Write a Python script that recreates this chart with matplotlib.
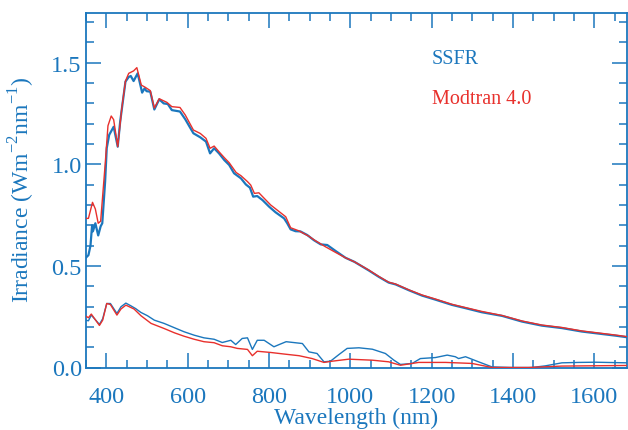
import matplotlib
matplotlib.use("Agg")
import matplotlib.pyplot as plt
from matplotlib.ticker import MultipleLocator

plt.rcParams['font.family'] = ['Liberation Serif', 'DejaVu Serif']
plt.rcParams['mathtext.fontset'] = 'custom'
plt.rcParams['mathtext.rm'] = 'Liberation Serif'

BLUE = '#1b77bd'
RED = '#e8302c'

# Downwelling irradiance - SSFR
ssfr_dn_wl = [348, 356, 361, 365, 367, 373, 380, 386, 390, 397, 401, 407, 418, 428, 434, 447, 455, 460,
              467, 477, 488, 494, 499, 508, 518, 530, 541, 551, 561, 581, 594, 614, 631, 645, 655, 665,
              677, 690, 702, 714, 731, 743, 753, 761, 771, 784, 800, 816, 837, 845, 853, 865, 877, 894,
              910, 927, 943, 964, 988, 1010, 1045, 1070, 1094, 1111, 1144, 1176, 1209, 1250, 1283, 1323,
              1373, 1422, 1471, 1520, 1569, 1618, 1651, 1680]
ssfr_dn = [0.537, 0.553, 0.60, 0.70, 0.67, 0.71, 0.65, 0.695, 0.71, 0.915, 1.08, 1.145, 1.185, 1.087,
           1.21, 1.407, 1.43, 1.435, 1.41, 1.448, 1.353, 1.374, 1.36, 1.358, 1.27, 1.32, 1.30, 1.297,
           1.267, 1.26, 1.222, 1.153, 1.133, 1.112, 1.054, 1.079, 1.054, 1.021, 0.997, 0.956, 0.931,
           0.901, 0.885, 0.841, 0.844, 0.824, 0.792, 0.764, 0.734, 0.709, 0.68, 0.671, 0.67, 0.652,
           0.627, 0.606, 0.603, 0.573, 0.54, 0.52, 0.478, 0.446, 0.418, 0.409, 0.380, 0.354, 0.334,
           0.308, 0.292, 0.272, 0.254, 0.226, 0.206, 0.194, 0.177, 0.165, 0.157, 0.149]

# Downwelling irradiance - Modtran 4.0
mod_dn_wl = [348, 356, 366, 373, 380, 386, 397, 404, 412, 418, 428, 438, 447, 455, 467, 475, 486, 495,
             508, 518, 530, 549, 561, 581, 594, 614, 631, 645, 655, 665, 677, 690, 702, 719, 731, 747,
             755, 764, 775, 788, 804, 820, 841, 853, 873, 898, 914, 939, 964, 988, 1010, 1045, 1070,
             1094, 1111, 1144, 1176, 1209, 1250, 1283, 1323, 1373, 1422, 1471, 1520, 1569, 1618, 1651,
             1680]
mod_dn = [0.734, 0.734, 0.813, 0.78, 0.71, 0.72, 0.997, 1.19, 1.238, 1.22, 1.087, 1.276, 1.41, 1.448,
          1.46, 1.476, 1.39, 1.38, 1.363, 1.277, 1.323, 1.305, 1.284, 1.28, 1.243, 1.169, 1.152, 1.128,
          1.079, 1.09, 1.062, 1.033, 1.008, 0.96, 0.944, 0.915, 0.898, 0.857, 0.86, 0.833, 0.80, 0.775,
          0.742, 0.688, 0.673, 0.646, 0.624, 0.594, 0.566, 0.54, 0.52, 0.480, 0.448, 0.420, 0.411,
          0.382, 0.357, 0.337, 0.311, 0.295, 0.276, 0.256, 0.229, 0.209, 0.197, 0.180, 0.168, 0.160,
          0.152]

# Upwelling irradiance - SSFR
ssfr_up_wl = [348, 356, 363, 383, 391, 401, 410, 426, 436, 448, 460, 472, 485, 501, 518, 542, 567, 591,
              616, 640, 665, 685, 706, 718, 734, 747, 759, 771, 788, 812, 825, 842, 882, 898, 918, 935,
              951, 972, 992, 1021, 1054, 1086, 1107, 1123, 1152, 1172, 1209, 1238, 1258, 1266, 1283,
              1315, 1348, 1397, 1446, 1479, 1520, 1561, 1602, 1680]
ssfr_up = [0.233, 0.23, 0.258, 0.212, 0.24, 0.315, 0.315, 0.266, 0.299, 0.317, 0.304, 0.29, 0.271,
           0.255, 0.233, 0.217, 0.196, 0.176, 0.159, 0.146, 0.139, 0.123, 0.134, 0.113, 0.143, 0.146,
           0.089, 0.134, 0.134, 0.102, 0.113, 0.127, 0.118, 0.077, 0.069, 0.028, 0.031, 0.064, 0.094,
           0.097, 0.09, 0.069, 0.036, 0.015, 0.02, 0.044, 0.049, 0.061, 0.053, 0.044, 0.053, 0.028,
           0.003, 0.0, 0.0, 0.008, 0.023, 0.025, 0.026, 0.023]

# Upwelling irradiance - Modtran 4.0
mod_up_wl = [348, 356, 363, 383, 391, 401, 410, 426, 436, 448, 468, 485, 510, 542, 567, 591, 616, 640,
             665, 685, 706, 722, 747, 759, 771, 804, 838, 874, 906, 935, 955, 996, 1054, 1094, 1123,
             1152, 1168, 1234, 1299, 1348, 1438, 1520, 1680]
mod_up = [0.255, 0.245, 0.263, 0.207, 0.233, 0.315, 0.31, 0.258, 0.288, 0.307, 0.288, 0.255, 0.217,
          0.192, 0.171, 0.154, 0.139, 0.127, 0.122, 0.107, 0.102, 0.094, 0.089, 0.058, 0.08, 0.074,
          0.066, 0.058, 0.044, 0.025, 0.031, 0.041, 0.036, 0.028, 0.011, 0.02, 0.025, 0.025, 0.02,
          0.0, 0.0, 0.007, 0.01]

xticks = [400, 600, 800, 1000, 1200, 1400, 1600]
yticks = [0.0, 0.5, 1.0, 1.5]

fig = plt.figure(figsize=(6.28, 4.31), dpi=100)
ax = fig.add_axes([86/628, 1-368.5/431, 541/628, 354.5/431])

ax.plot(mod_dn_wl, mod_dn, color=RED, lw=1.0, zorder=3)
ax.plot(ssfr_dn_wl, ssfr_dn, color=BLUE, lw=1.6, zorder=2)
ax.plot(mod_up_wl, mod_up, color=RED, lw=1.0, zorder=3)
ax.plot(ssfr_up_wl, ssfr_up, color=BLUE, lw=1.0, zorder=2)

ax.set_xlim(350, 1680)
ax.set_ylim(0.0, 1.745)
ax.set_xticks(xticks)
ax.set_yticks(yticks)
ax.set_yticklabels([f"{v:.1f}" for v in yticks])
ax.xaxis.set_minor_locator(MultipleLocator(50))
ax.yaxis.set_minor_locator(MultipleLocator(0.1))

for s in ax.spines.values():
    s.set_color(BLUE)
    s.set_linewidth(1.3)

ax.tick_params(which='both', direction='in', top=True, right=True, color=BLUE, width=1.1,
               labelcolor=BLUE, labelsize=17.5)
ax.tick_params(which='major', length=11)
ax.tick_params(which='minor', length=5.5)
ax.tick_params(axis='x', pad=13)
ax.tick_params(axis='y', pad=3)

ax.set_xlabel('Wavelength (nm)', color=BLUE, fontsize=17, labelpad=0)
fig.text(22/628, 1-190/431, r'Irradiance (Wm$^{\mathregular{-2}}$nm$^{\mathregular{-1}}$)',
         rotation=90, ha='center', va='center', color=BLUE, fontsize=17)

ax.text(1200, 1.497, 'SSFR', color=BLUE, fontsize=14.5, ha='left', va='baseline')
ax.text(1200, 1.30, 'Modtran 4.0', color=RED, fontsize=14.5, ha='left', va='baseline')

fig.savefig('out.png', dpi=100)
